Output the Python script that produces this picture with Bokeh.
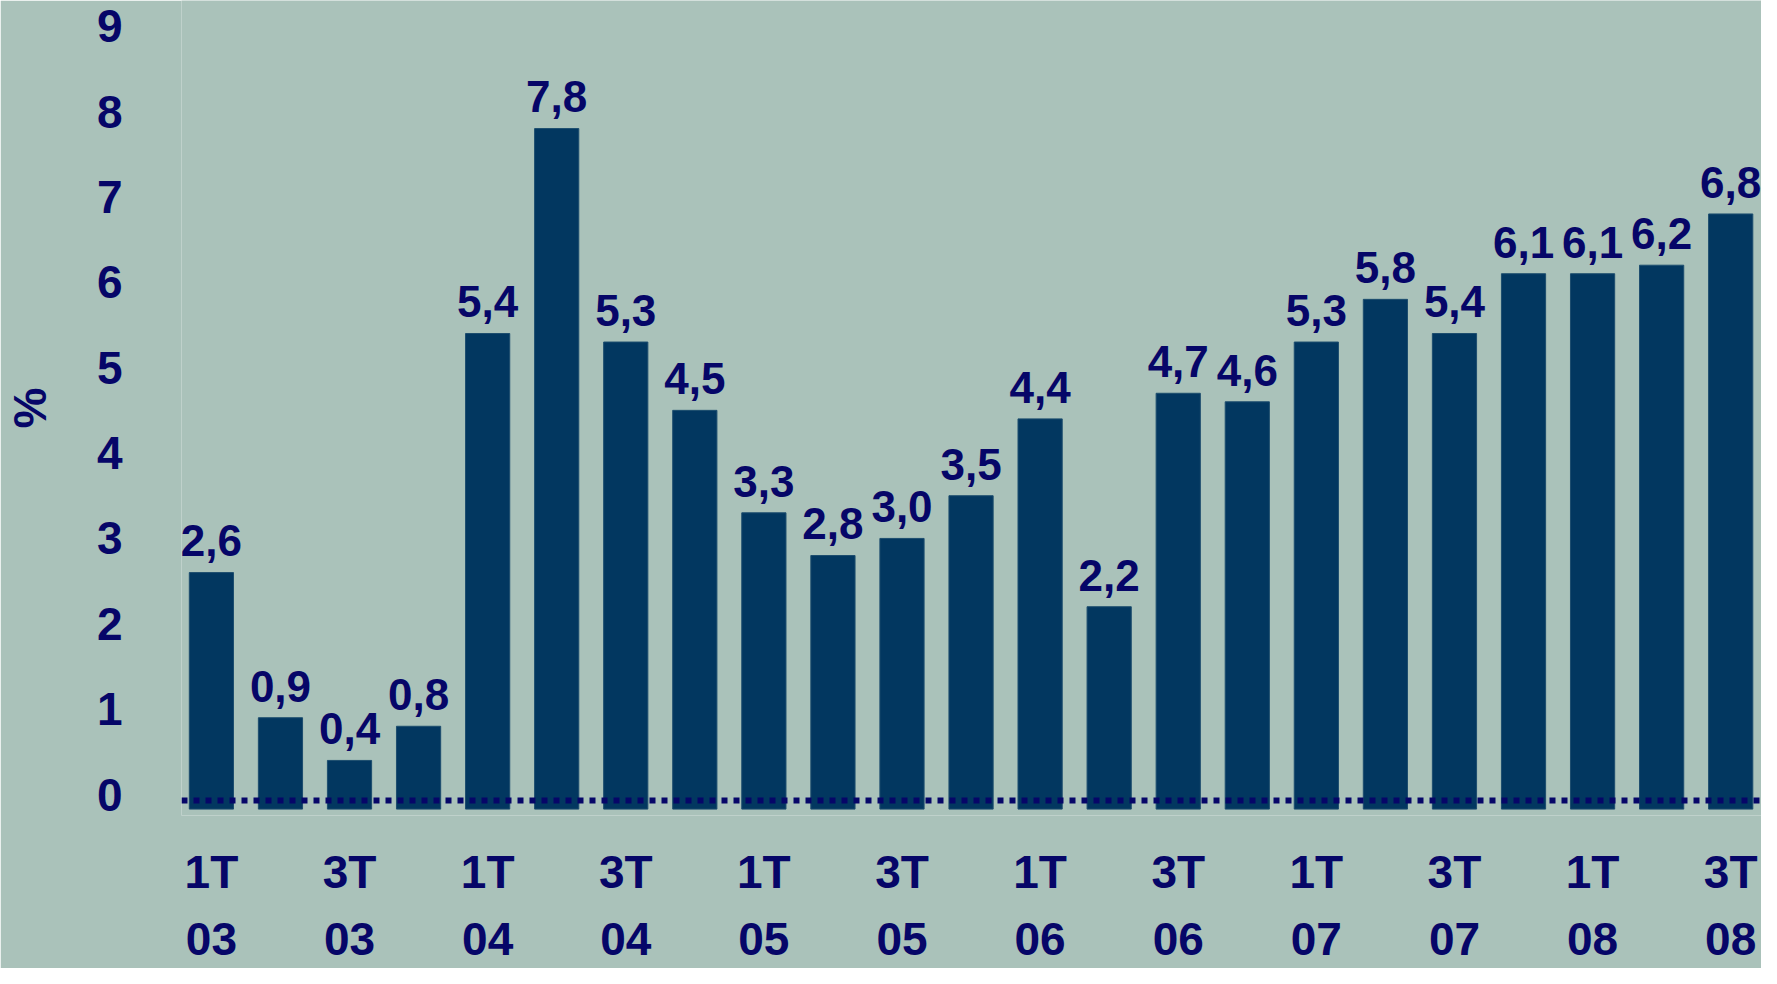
from bokeh.plotting import figure
from bokeh.models import FixedTicker, Span, ColumnDataSource
from bokeh.embed import file_html
from bokeh.resources import INLINE
from bokeh.core.properties import value

# ---- data ----
quarters = ["1T", "2T", "3T", "4T"] * 5 + ["1T", "2T", "3T"]
years = ["03"] * 4 + ["04"] * 4 + ["05"] * 4 + ["06"] * 4 + ["07"] * 4 + ["08"] * 3
growth = [2.6, 0.9, 0.4, 0.8, 5.4, 7.8, 5.3, 4.5, 3.3, 2.8, 3.0, 3.5,
          4.4, 2.2, 4.7, 4.6, 5.3, 5.8, 5.4, 6.1, 6.1, 6.2, 6.8]
y_ticks = [0, 1, 2, 3, 4, 5, 6, 7, 8, 9]
y_label = "%"

# ---- style ----
BG = "#aac2ba"
BAR = "#023760"
NAVY = "#060668"
FONT = "Liberation Sans"
BAR_BASE = -0.17
ZERO_LINE = -0.07
LABEL_GAP = 0.37

idx = list(range(len(growth)))
labels = [("%.1f" % v).replace(".", ",") for v in growth]
label_y = [v + LABEL_GAP for v in growth]
src = ColumnDataSource(dict(x=idx, top=growth, label=labels, ly=label_y))

p = figure(width=1761, height=968, x_range=(-0.433, 22.446), y_range=(-0.245, 9.30),
           output_backend="svg", toolbar_location=None,
           min_border_left=175, min_border_right=0, min_border_top=0, min_border_bottom=149)
p.background_fill_color = BG
p.border_fill_color = BG
p.outline_line_color = None
p.xgrid.visible = False
p.ygrid.visible = False

p.vbar(x="x", top="top", bottom=BAR_BASE, width=0.64, source=src,
       fill_color=BAR, line_color="#1d4d6e", line_width=1)

p.add_layout(Span(location=ZERO_LINE, dimension="width", line_color=NAVY,
                  line_width=6, line_dash="6 6"))

p.text(x="x", y="ly", text="label", source=src, text_align="center",
       text_baseline="alphabetic", text_font=value(FONT),
       text_font_style="bold", text_font_size="44px", text_color=NAVY)

ya = p.yaxis[0]
ya.ticker = FixedTicker(ticks=y_ticks)
ya.axis_line_color = None
ya.major_tick_line_color = None
ya.minor_tick_line_color = None
ya.major_tick_out = 0
ya.minor_tick_out = 0
ya.major_label_standoff = 59
ya.major_label_text_font = FONT
ya.major_label_text_font_style = "bold"
ya.major_label_text_font_size = "46px"
ya.major_label_text_color = NAVY
ya.axis_label = y_label
ya.axis_label_text_font = FONT
ya.axis_label_text_font_style = "bold"
ya.axis_label_text_font_size = "46px"
ya.axis_label_text_color = NAVY
ya.axis_label_standoff = 38

xa = p.xaxis[0]
tick_idx = [i for i, q in enumerate(quarters) if q in ("1T", "3T")]
xa.ticker = FixedTicker(ticks=tick_idx)
xa.major_label_overrides = {i: quarters[i] + "\n" + years[i] for i in tick_idx}
xa.axis_line_color = None
xa.major_tick_line_color = None
xa.minor_tick_line_color = None
xa.major_tick_out = 0
xa.minor_tick_out = 0
xa.major_label_standoff = 30
xa.major_label_text_font = FONT
xa.major_label_text_font_style = "bold"
xa.major_label_text_font_size = "46px"
xa.major_label_text_line_height = 1.3
xa.major_label_text_color = NAVY

html = file_html(p, INLINE)
html = html.replace("<body>", '<body style="background:%s">' % BG, 1)
open("out.html", "w").write(html)
